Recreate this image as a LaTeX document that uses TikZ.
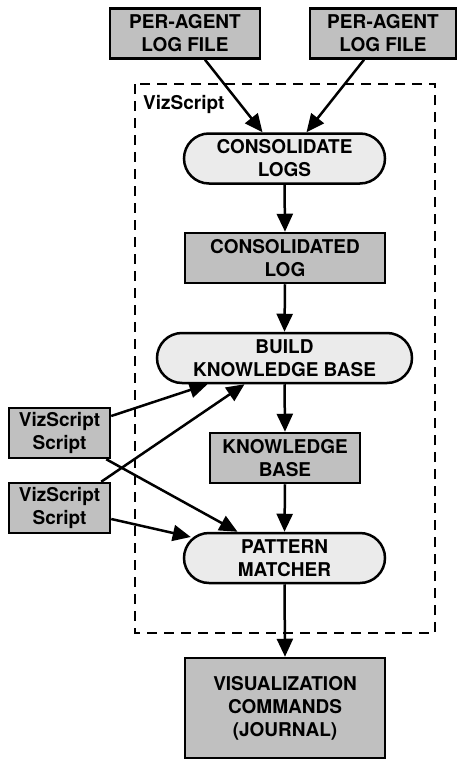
\documentclass[tikz,border=0pt]{standalone}
\usepackage{fontspec}
\setmainfont{TeX Gyre Heros}
\usetikzlibrary{arrows.meta,calc}
\definecolor{boxgray}{HTML}{C0C0C0}
\definecolor{procgray}{HTML}{EBEBEB}
\begin{document}
\begin{tikzpicture}[x=1pt,y=-1pt,
  every node/.style={font=\fontsize{19}{23}\selectfont\bfseries, align=center, inner sep=0pt},
  databox/.style={draw=black, line width=2.5pt, fill=boxgray, minimum width=#1, minimum height=50pt},
  databox/.default=150pt,
  procbox/.style={draw=black, line width=2.5pt, fill=procgray, rounded corners=25pt, minimum width=#1, minimum height=50pt},
  procbox/.default=201pt,
  arr/.style={line width=2.5pt, -{Triangle[length=18pt,width=16pt]}}
]
\useasboundingbox (0,0) rectangle (456,760);
% dashed container
\draw[line width=2.5pt, dash pattern=on 10pt off 7pt] (135,84) rectangle (435,633);
\node[anchor=north west] (lbl) at (143,95) {VizScript};

\node[databox] (log1) at (185,33.5) {PER-AGENT\\LOG FILE};
\node[databox=146pt] (log2) at (383,33.5) {PER-AGENT\\LOG FILE};
\node[procbox] (cons) at (284.5,158.5) {CONSOLIDATE\\LOGS};
\node[databox=200pt] (clog) at (285,258) {CONSOLIDATED\\LOG};
\node[procbox=255pt] (build) at (284.5,358) {BUILD\\KNOWLEDGE BASE};
\node[databox] (kb) at (285,458) {KNOWLEDGE\\BASE};
\node[procbox] (pm) at (284.5,558) {PATTERN\\MATCHER};
\node[databox=200pt, minimum height=100pt] (vis) at (285,708) {VISUALIZATION\\COMMANDS\\(JOURNAL)};
\node[databox=101pt] (vs1) at (59.5,433) {VizScript\\Script};
\node[databox=101pt] (vs2) at (59.5,508) {VizScript\\Script};

\draw[arr] ($(log1.south)+(20,0)$) -- ($(cons.north)+(-22,0)$);
\draw[arr] ($(log2.south)+(-19,0)$) -- ($(cons.north)+(22,0)$);
\draw[arr] (cons.south) -- (clog.north);
\draw[arr] (clog.south) -- (build.north);
\draw[arr] (build.south) -- (kb.north);
\draw[arr] (kb.south) -- (pm.north);
\draw[arr] (pm.south) -- (vis.north);
\draw[arr] ($(vs1.east)+(0,-17)$) -- ($(build.south)+(-77,0)$);
\draw[arr] ($(vs2.north east)+(-10,0)$) -- ($(build.south)+(-40,0)$);
\draw[arr] ($(vs1.south east)+(-5,0)$) -- ($(pm.north)+(-47,0)$);
\draw[arr] ($(vs2.east)+(0,11)$) -- ($(pm.west)+(8,-21)$);
\end{tikzpicture}
\end{document}
